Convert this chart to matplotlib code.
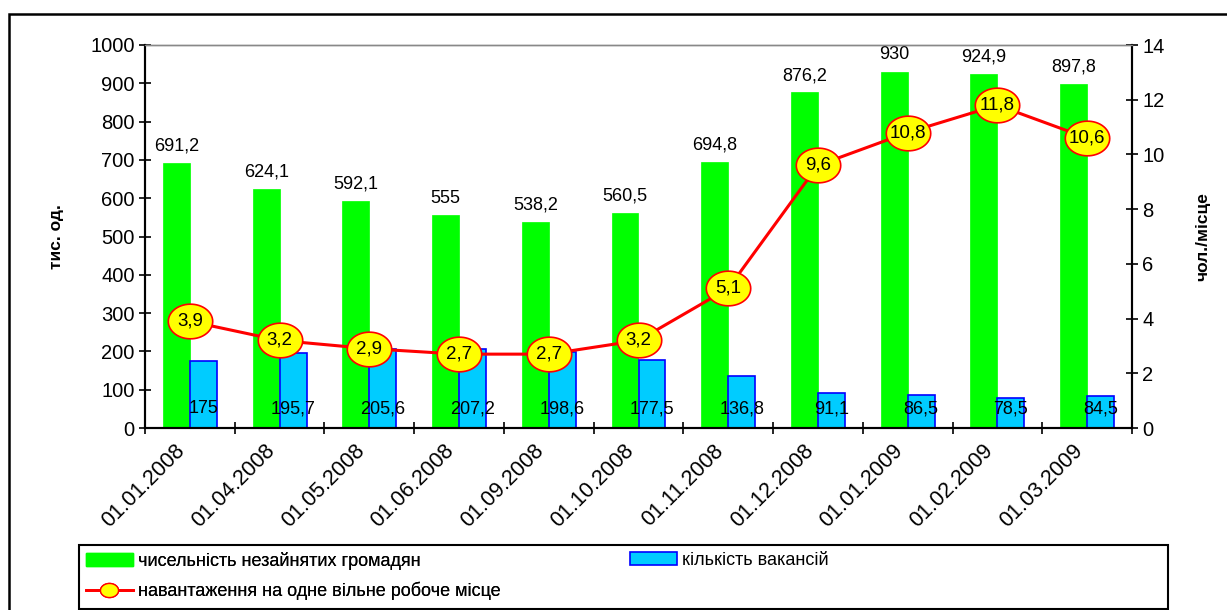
import matplotlib
matplotlib.use("Agg")
import matplotlib.pyplot as plt
import numpy as np
from matplotlib.patches import Rectangle
from matplotlib.path import Path
from matplotlib.lines import Line2D
from matplotlib import font_manager

dates = ["01.01.2008", "01.04.2008", "01.05.2008", "01.06.2008", "01.09.2008",
         "01.10.2008", "01.11.2008", "01.12.2008", "01.01.2009", "01.02.2009", "01.03.2009"]
unemployed = [691.2, 624.1, 592.1, 555, 538.2, 560.5, 694.8, 876.2, 930, 924.9, 897.8]
vacancies = [175, 195.7, 205.6, 207.2, 198.6, 177.5, 136.8, 91.1, 86.5, 78.5, 84.5]
load = [3.9, 3.2, 2.9, 2.7, 2.7, 3.2, 5.1, 9.6, 10.8, 11.8, 10.6]

label_unemp = "чисельність незайнятих громадян"
label_vac = "кількість вакансій"
label_load = "навантаження на одне вільне робоче місце"

names = {f.name for f in font_manager.fontManager.ttflist}
base_font = "Liberation Sans" if "Liberation Sans" in names else "DejaVu Sans"
plt.rcParams['font.family'] = [base_font, 'DejaVu Sans']

def fmt(v):
    return ("%g" % v).replace(".", ",")

fig = plt.figure(figsize=(12.27, 6.10), dpi=100)
ax = fig.add_axes([145/1227, 1-428/610, (1132-145)/1227, (428-45)/610])
ax2 = ax.twinx()

x = np.arange(len(dates))
w = 0.3
ax.bar(x - w/2, unemployed, width=w, color="#00ff00", edgecolor="#00ff00", linewidth=0.5, zorder=2)
ax.bar(x + w/2, vacancies, width=w, color="#00ccff", edgecolor="#0000ff", linewidth=1.2, zorder=2)

for xi, v in zip(x, unemployed):
    ax.annotate(fmt(v), (xi - w/2, v), xytext=(0, 6), textcoords="offset points",
                ha="center", va="bottom", fontsize=13, zorder=5)
for xi, v in zip(x, vacancies):
    ax.annotate(fmt(v), (xi + w/2, 0), xytext=(0, 14), textcoords="offset points",
                ha="center", va="center", fontsize=13, zorder=5)

# ellipse marker
t = np.linspace(0, 2*np.pi, 60)
ell = Path(np.column_stack([np.cos(t), 0.78*np.sin(t)]), closed=True)

ax2.plot(x, load, color="#ff0000", linewidth=2.2, zorder=3,
         marker=ell, markersize=32, markerfacecolor="#ffff00",
         markeredgecolor="#ff0000", markeredgewidth=1.2)
for xi, v in zip(x, load):
    ax2.text(xi, v, fmt(v), ha="center", va="center", fontsize=13.5, zorder=6)

ax.set_xlim(-0.5, len(dates) - 0.5)
ax.set_ylim(0, 1000)
ax.set_yticks(np.arange(0, 1001, 100))
ax2.set_ylim(0, 14)
ax2.set_yticks(np.arange(0, 15, 2))

ax.set_xticks(np.arange(-0.5, len(dates), 1.0))
ax.set_xticklabels([])
# label anchors sit slightly left of the category centre, as in the reference
ax.set_xticks(x - 0.17, minor=True)
ax.set_xticklabels(dates, minor=True, rotation=45, ha="right", rotation_mode="anchor",
                   fontsize=15.5)
ax.tick_params(axis="x", which="minor", length=0, pad=9)
ax.tick_params(axis="x", which="major", direction="inout", length=9, width=1.2)
ax.tick_params(axis="y", direction="inout", length=9, width=1.2, labelsize=14.5, pad=3)
ax2.tick_params(axis="y", direction="inout", length=9, width=1.2, labelsize=14.5, pad=3)

for a in (ax, ax2):
    a.spines["top"].set_color("#888888")
    a.spines["top"].set_linewidth(1.0)
    a.spines["left"].set_linewidth(1.5)
    a.spines["right"].set_linewidth(1.5)
    a.spines["bottom"].set_linewidth(1.5)

ax.set_ylabel("тис. од.", fontsize=12.5, fontweight="bold", labelpad=19)
ax2.set_ylabel("чол./місце", fontsize=12.5, fontweight="bold", labelpad=22)

h_green = Rectangle((0, 0), 1, 1, facecolor="#00ff00", edgecolor="#00ff00")
h_line = Line2D([0], [0], color="#ff0000", linewidth=2, marker=ell, markersize=13,
                markerfacecolor="#ffff00", markeredgecolor="#ff0000")
h_blue = Rectangle((0, 0), 1, 1, facecolor="#00ccff", edgecolor="#0000ff", linewidth=1.2)

leg_kw = dict(frameon=False, borderaxespad=0, prop={"size": 13}, handlelength=2.6,
              handletextpad=0.3, labelspacing=0.65, borderpad=0)
leg1 = fig.legend([h_green, h_line], [label_unemp, label_load], loc="upper left",
                  bbox_to_anchor=(86/1227, 1 - 552/610), **leg_kw)
fig.add_artist(leg1)
leg2 = fig.legend([h_blue], [label_vac], loc="upper left",
                  bbox_to_anchor=(630/1227, 1 - 552/610), **leg_kw)

fig.patches.append(Rectangle((79/1227, 1 - 609/610), 1089/1227, 64/610, transform=fig.transFigure,
                             fill=False, edgecolor="black", linewidth=1.5, zorder=0))
fig.patches.append(Rectangle((9/1227, -0.1), 1.2, 1 - 14/610 + 0.1, transform=fig.transFigure,
                             fill=False, edgecolor="black", linewidth=1.8, zorder=0))

fig.savefig("out.png", dpi=100)
